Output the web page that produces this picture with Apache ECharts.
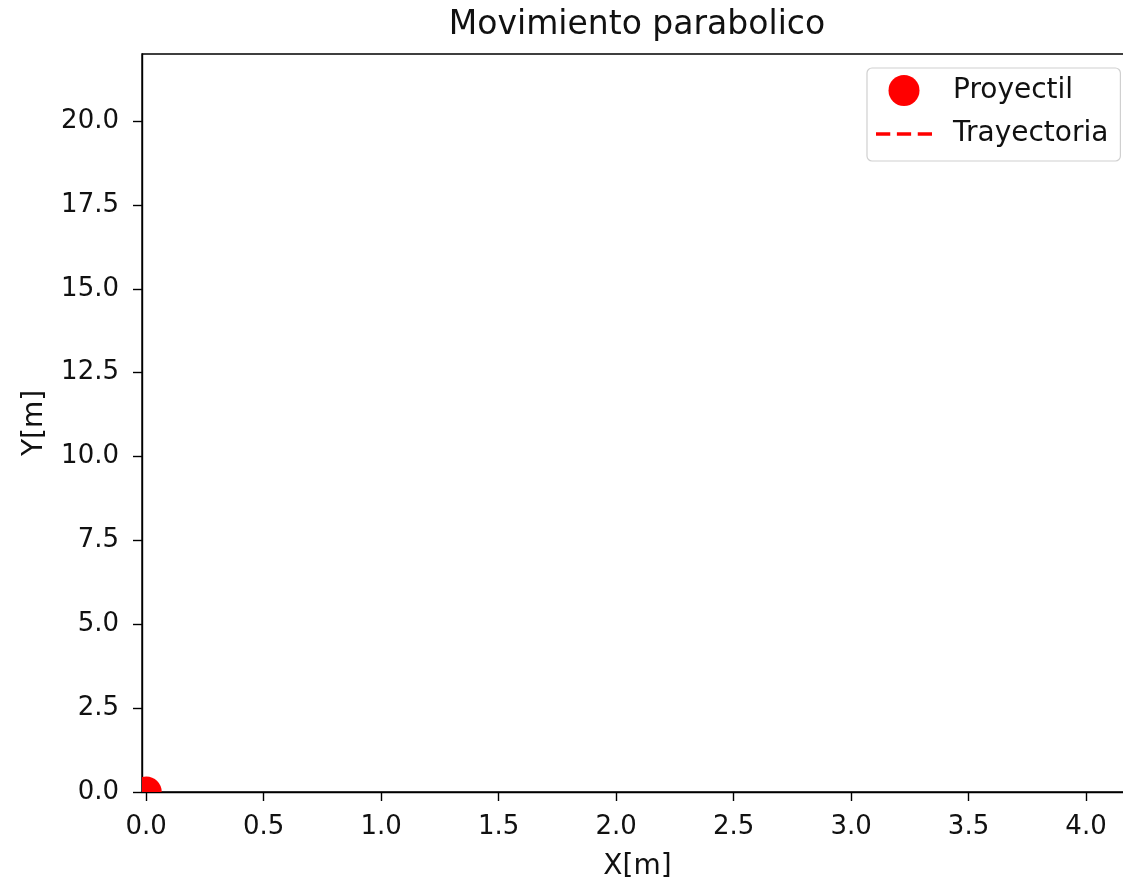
<!DOCTYPE html>
<html>
<head>
<meta charset="utf-8">
<script src="https://cdn.jsdelivr.net/npm/echarts@6/dist/echarts.min.js"></script>
<style>html,body{margin:0;padding:0;background:#fff;}#c{width:1123px;height:879px;}</style>
</head>
<body>
<div id="c"></div>
<script>
const xTicks = [0, 0.5, 1.0, 1.5, 2.0, 2.5, 3.0, 3.5, 4.0];
const yTicks = [0, 2.5, 5.0, 7.5, 10.0, 12.5, 15.0, 17.5, 20.0];
const projectileX = [0];
const projectileY = [0];
const trajectoryX = [0];
const trajectoryY = [0];

const chart = echarts.init(document.getElementById('c'));
const font = 'DejaVu Sans';
const txt = '#111';
chart.setOption({
  animation: false,
  backgroundColor: '#fff',
  title: {
    text: 'Movimiento parabolico',
    left: 632, top: 4, textAlign: 'center',
    textStyle: { fontFamily: font, fontSize: 33, fontWeight: 'normal', color: txt }
  },
  legend: {
    orient: 'vertical',
    left: 867, top: 68,
    padding: [7, 12, 13, 9],
    itemGap: 14,
    itemWidth: 56, itemHeight: 31,
    symbolKeepAspect: true,
    backgroundColor: 'rgba(255,255,255,0.8)',
    borderColor: '#d0d0d0', borderWidth: 1.2, borderRadius: 5,
    textStyle: { fontFamily: font, fontSize: 28, color: txt, padding: [0, 0, 0, 16] },
    data: [
      { name: 'Proyectil', icon: 'circle', itemStyle: { color: '#ff0000' } },
      { name: 'Trayectoria',
        icon: 'path://M0,0h14v3.5h-14zM20.5,0h14v3.5h-14zM41,0h14v3.5h-14z',
        itemStyle: { color: '#ff0000' },
        lineStyle: { width: 0, opacity: 0 } }
    ]
  },
  grid: {
    left: 142, top: 54, right: -10, bottom: 87,
    show: true, borderColor: '#000', borderWidth: 1.4,
    outerBoundsMode: 'none', containLabel: false
  },
  xAxis: {
    type: 'value', min: -0.018, max: 4.2,
    name: 'X[m]', nameLocation: 'middle', nameGap: 61,
    nameTextStyle: { fontFamily: font, fontSize: 28, color: txt },
    splitLine: { show: false },
    axisLine: { show: true, onZero: false, lineStyle: { color: '#000', width: 1.4 } },
    axisTick: { show: true, customValues: xTicks, length: 9, lineStyle: { color: '#000', width: 1.4 } },
    axisLabel: { customValues: xTicks, margin: 22, fontFamily: font, fontSize: 26, color: txt,
      formatter: v => Number(v).toFixed(1) }
  },
  yAxis: {
    type: 'value', min: 0, max: 22,
    name: 'Y[m]', nameLocation: 'middle', nameGap: 93,
    nameTextStyle: { fontFamily: font, fontSize: 28, color: txt },
    splitLine: { show: false },
    axisLine: { show: true, onZero: false, lineStyle: { color: '#000', width: 1.4 } },
    axisTick: { show: true, customValues: yTicks, length: 9, lineStyle: { color: '#000', width: 1.4 } },
    axisLabel: { customValues: yTicks, margin: 23, fontFamily: font, fontSize: 26, color: txt,
      formatter: v => Number(v).toFixed(1) }
  },
  series: [
    {
      name: 'Proyectil', type: 'custom', clip: true,
      itemStyle: { color: '#ff0000' },
      data: projectileX.map((x, i) => [x, projectileY[i]]),
      renderItem: function (params, api) {
        const p = api.coord([api.value(0), api.value(1)]);
        return { type: 'circle', shape: { cx: p[0], cy: p[1], r: 15.5 }, style: { fill: '#ff0000' } };
      }
    },
    {
      name: 'Trayectoria', type: 'line', clip: true,
      symbol: 'none', showSymbol: false,
      lineStyle: { color: '#ff0000', width: 3.5, type: [13.5, 5.8] },
      itemStyle: { color: '#ff0000' },
      data: trajectoryX.map((x, i) => [x, trajectoryY[i]])
    }
  ]
});
</script>
</body>
</html>
